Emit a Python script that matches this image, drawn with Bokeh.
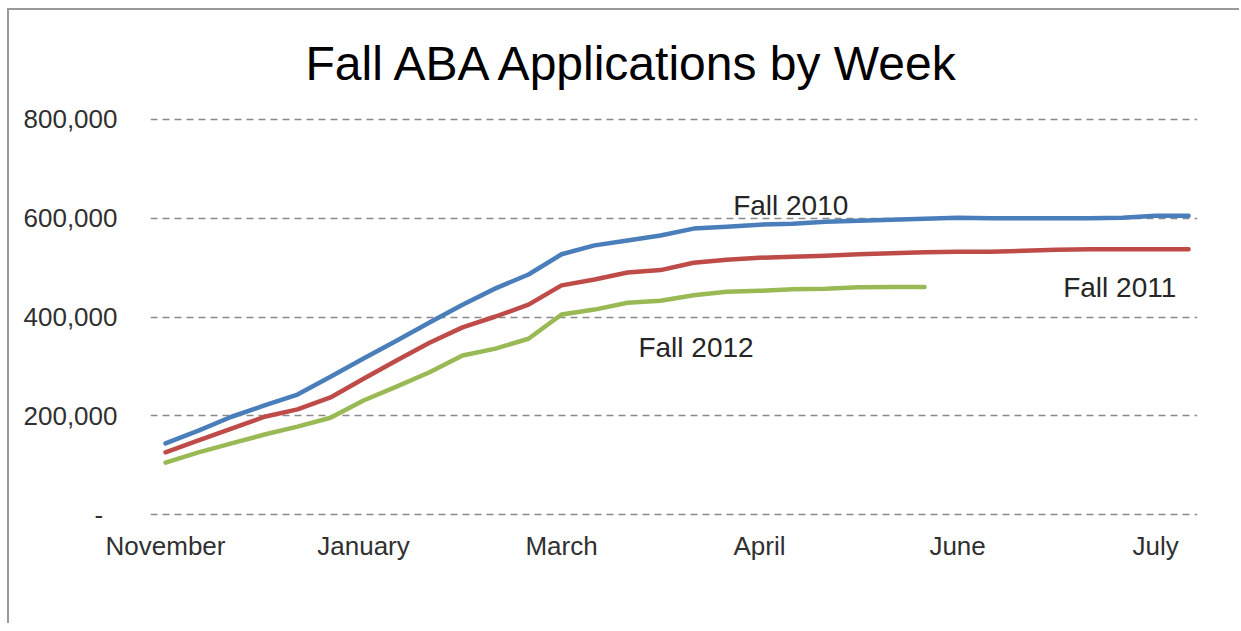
from bokeh.plotting import figure
from bokeh.models import Range1d, FixedTicker, Label
from bokeh.embed import file_html
from bokeh.resources import INLINE

# Data (weekly cumulative applications)
weeks = list(range(32))
month_ticks = [0, 6, 12, 18, 24, 30]
month_labels = ["November", "January", "March", "April", "June", "July"]

fall_2010 = [144000, 170000, 198000, 221000, 243000, 279000, 316000, 352000,
             389000, 425000, 458000, 486000, 527000, 545000, 555000, 565000,
             579000, 583000, 587000, 589000, 593000, 595000, 597000, 599000,
             601000, 600000, 600000, 600000, 600000, 601000, 605000, 605000]
fall_2011 = [126000, 150000, 174000, 198000, 213000, 237000, 275000, 312000,
             348000, 379000, 401000, 425000, 464000, 476000, 490000, 495000,
             510000, 516000, 520000, 522000, 524000, 527000, 529000, 531000,
             532000, 532000, 534000, 536000, 537000, 537000, 537000, 537000]
fall_2012 = [105000, 126000, 144000, 162000, 178000, 196000, 231000, 259000,
             288000, 322000, 336000, 356000, 405000, 415000, 429000, 433000,
             444000, 451000, 453000, 456000, 457000, 460000, 461000, 461000]

y_ticks = [0, 200000, 400000, 600000, 800000]
y_labels = ["-\u00a0\u00a0", "200,000", "400,000", "600,000", "800,000"]

series = [
    ("Fall 2010", fall_2010, "#4A7EBB"),
    ("Fall 2011", fall_2011, "#BE4B48"),
    ("Fall 2012", fall_2012, "#98B954"),
]
series_label_pos = {"Fall 2010": (17.2, 626000), "Fall 2011": (27.2, 459000),
                    "Fall 2012": (14.33, 338000)}

FONT = "Liberation Sans"

p = figure(width=1232, height=615, output_backend="svg", toolbar_location=None,
           x_range=Range1d(-0.4545, 31.27), y_range=Range1d(-4000, 804000),
           min_border_left=141, min_border_right=44, min_border_top=107,
           min_border_bottom=109,
           title="Fall ABA Applications by Week")
p.outline_line_color = None
p.background_fill_color = "white"
p.border_fill_color = "white"
p.styles = {"border-top": "2px solid #9a9a9a", "border-left": "2px solid #9a9a9a",
            "border-right": "0px none", "border-bottom": "0px none",
            "margin-top": "8px", "margin-left": "7px"}

p.title.align = "left"
p.title.vertical_align = "top"
p.title.text_font = FONT
p.title.text_font_size = "48px"
p.title.text_font_style = "normal"
p.title.text_color = "#000000"
p.title.standoff = 52
p.title.offset = 155

for name, vals, color in series:
    p.line(weeks[:len(vals)], vals, line_color=color, line_width=4.5,
           line_join="round", line_cap="round")

# axes
p.xaxis.ticker = FixedTicker(ticks=month_ticks)
p.xaxis.major_label_overrides = {t: l for t, l in zip(month_ticks, month_labels)}
p.yaxis.ticker = FixedTicker(ticks=y_ticks)
p.yaxis.major_label_overrides = {t: l for t, l in zip(y_ticks, y_labels)}
for ax in (p.xaxis, p.yaxis):
    ax.axis_line_color = None
    ax.major_tick_line_color = None
    ax.minor_tick_line_color = None
    ax.major_tick_out = 0
    ax.major_tick_in = 0
    ax.major_label_text_font = FONT
    ax.major_label_text_font_size = "26px"
    ax.major_label_text_color = "#303030"
p.yaxis.major_label_standoff = 33
p.xaxis.major_label_standoff = 14

p.xgrid.grid_line_color = None
p.ygrid.ticker = FixedTicker(ticks=y_ticks)
p.ygrid.grid_line_color = "#8a8a8a"
p.ygrid.grid_line_width = 1.5
p.ygrid.grid_line_dash = "7 5"

for name, (lx, ly) in series_label_pos.items():
    p.add_layout(Label(x=lx, y=ly, text=name, text_font=FONT,
                       text_font_size="28px", text_color="#262626",
                       text_align="left", text_baseline="alphabetic"))

open("out.html", "w").write(file_html(p, INLINE))
